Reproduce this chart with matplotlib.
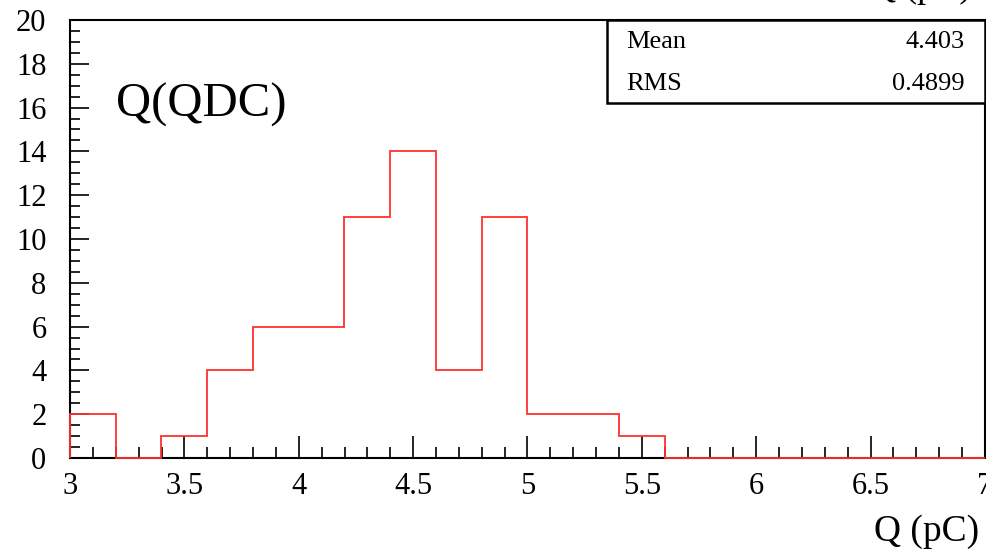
import matplotlib
matplotlib.use("Agg")
import matplotlib.pyplot as plt
import numpy as np

# histogram Q(QDC), 20 bins of 0.2 pC from 3 to 7
bin_edges = [3.0, 3.2, 3.4, 3.6, 3.8, 4.0, 4.2, 4.4, 4.6, 4.8, 5.0,
             5.2, 5.4, 5.6, 5.8, 6.0, 6.2, 6.4, 6.6, 6.8, 7.0]
counts = [2, 0, 1, 4, 6, 6, 11, 14, 4, 11, 2, 2, 1, 0, 0, 0, 0, 0, 0, 0]
stat_names = ["Mean", "RMS"]
stat_values = ["4.403", "0.4899"]

plt.rcParams["font.family"] = ["Liberation Serif", "DejaVu Serif"]

fig = plt.figure(figsize=(9.86, 5.53), dpi=100)
ax = fig.add_axes([70 / 986, 1 - 458 / 553, 915 / 986, 438 / 553])

ax.stairs(counts, bin_edges, color="#ff3030", linewidth=1.3, zorder=4,
          clip_on=False)

ax.set_xlim(3, 7)
ax.set_ylim(0, 20)
ax.set_xticks(np.arange(3, 7.01, 0.5))
ax.set_xticklabels(["3", "3.5", "4", "4.5", "5", "5.5", "6", "6.5", "7"])
ax.set_xticks(np.arange(3, 7.01, 0.1), minor=True)
ax.set_yticks(np.arange(0, 21, 2))
ax.set_yticks(np.arange(0, 20.1, 0.5), minor=True)
ax.tick_params(which="both", direction="in", top=False, right=False,
               labelsize=22, width=1.2)
ax.tick_params(axis="x", which="major", length=16, pad=10)
ax.tick_params(axis="x", which="minor", length=8)
ax.tick_params(axis="y", which="major", length=14, pad=17)
ax.tick_params(axis="y", which="minor", length=7)
for s in ax.spines.values():
    s.set_linewidth(1.5)

ax.text(0.05, 0.78, "Q(QDC)", transform=ax.transAxes, fontsize=35)
fig.text(0.993, 0.008, "Q (pC)", ha="right", va="bottom", fontsize=27)

# stats box
bx0 = (607 - 70) / 915
by0 = (458 - 103) / 438
ax.add_patch(plt.Rectangle((bx0, by0), 1 - bx0, 1 - by0, transform=ax.transAxes,
                           facecolor="white", edgecolor="black", linewidth=1.8,
                           clip_on=False, zorder=5))
for i, (n, v) in enumerate(zip(stat_names, stat_values)):
    yy = 1 - (0.27 + 0.5 * i) * (1 - by0)
    ax.text(bx0 + 0.021, yy, n, transform=ax.transAxes, fontsize=19,
            va="center", ha="left", zorder=6)
    ax.text(0.978, yy, v, transform=ax.transAxes, fontsize=19,
            va="center", ha="right", zorder=6)

# cut-off title at the very top right
fig.text(0.985, 1.05, "Q (pC)", ha="right", va="top", fontsize=26)

fig.savefig("out.png", dpi=100)
